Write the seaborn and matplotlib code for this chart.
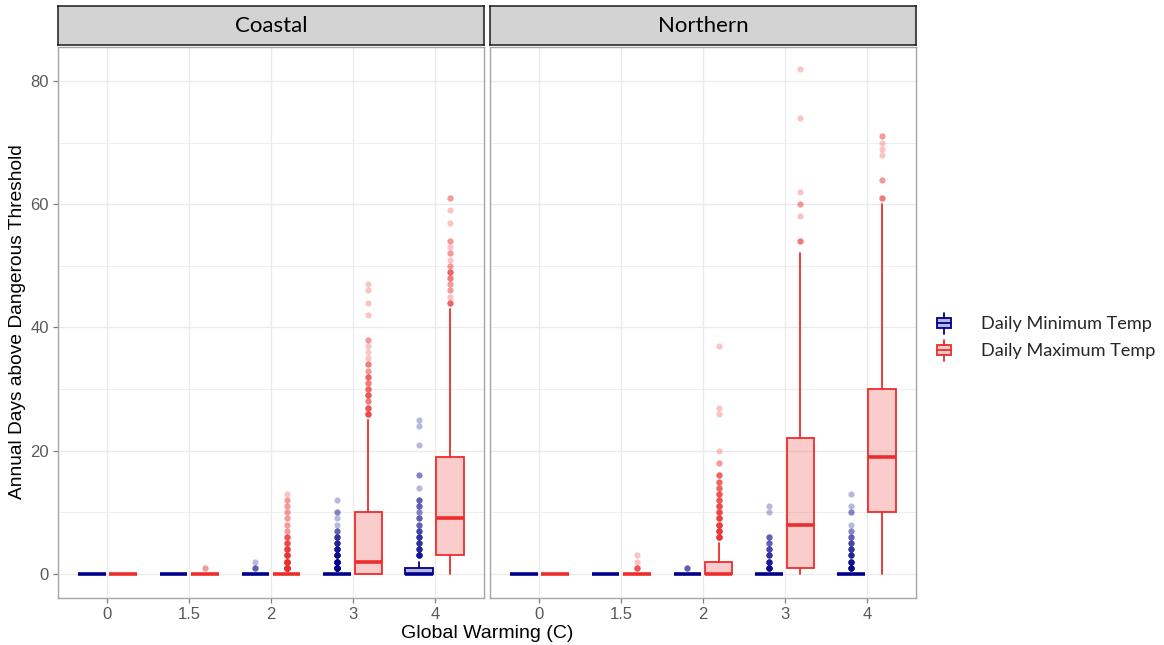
import numpy as np
import matplotlib
matplotlib.use("Agg")
import matplotlib.pyplot as plt
import seaborn as sns
from matplotlib.legend_handler import HandlerBase
from matplotlib.patches import Rectangle
from matplotlib.lines import Line2D
from matplotlib.ticker import MultipleLocator

# ---------------------------------------------------------------- data
regions = ["Coastal", "Northern"]
warming_labels = ["0", "1.5", "2", "3", "4"]
series_labels = ["Daily Minimum Temp", "Daily Maximum Temp"]

# Box summaries per warming level: [q1, median, q3, whisker_low, whisker_high]
coastal_min_stats = [[0, 0, 0, 0, 0], [0, 0, 0, 0, 0], [0, 0, 0, 0, 0],
                     [0, 0, 0, 0, 0], [0, 0, 1, 0, 2]]
coastal_max_stats = [[0, 0, 0, 0, 0], [0, 0, 0, 0, 0], [0, 0, 0, 0, 0],
                     [0, 2, 10, 0, 25], [3, 9, 19, 0, 43]]
northern_min_stats = [[0, 0, 0, 0, 0], [0, 0, 0, 0, 0], [0, 0, 0, 0, 0],
                      [0, 0, 0, 0, 0], [0, 0, 0, 0, 0]]
northern_max_stats = [[0, 0, 0, 0, 0], [0, 0, 0, 0, 0], [0, 0, 2, 0, 5],
                      [1, 8, 22, 0, 52], [10, 19, 30, 0, 60]]

# Outlying years: distinct values and how many years share each value
coastal_min_out_vals = [[], [], [1, 2],
                        [1, 2, 3, 4, 5, 6, 7, 8, 9, 10, 12],
                        [3, 4, 5, 6, 7, 8, 9, 10, 11, 12, 14, 16, 21, 24, 25]]
coastal_min_out_cnts = [[], [], [3, 1],
                        [20, 14, 10, 8, 6, 5, 3, 1, 1, 2, 1],
                        [8, 6, 5, 5, 4, 3, 3, 2, 3, 3, 1, 2, 1, 1, 1]]
coastal_max_out_vals = [[], [1], [1, 2, 3, 4, 5, 6, 7, 8, 9, 10, 11, 12, 13],
                        [26, 27, 28, 29, 30, 31, 32, 33, 34, 35, 36, 37, 38, 42, 44, 46, 47],
                        [44, 45, 46, 47, 48, 49, 50, 51, 52, 53, 54, 57, 59, 61]]
coastal_max_out_cnts = [[], [2], [20, 14, 10, 8, 6, 5, 2, 2, 2, 2, 2, 2, 1],
                        [6, 5, 3, 5, 4, 3, 4, 2, 3, 1, 1, 1, 2, 1, 1, 1, 1],
                        [4, 1, 2, 2, 3, 4, 2, 1, 2, 1, 2, 1, 1, 2]]
northern_min_out_vals = [[], [], [1],
                         [1, 2, 3, 4, 5, 6, 10, 11],
                         [1, 2, 3, 4, 5, 6, 7, 8, 10, 11, 13]]
northern_min_out_cnts = [[], [], [3],
                         [10, 7, 5, 4, 3, 3, 1, 1],
                         [10, 8, 6, 5, 4, 3, 2, 1, 2, 1, 1]]
northern_max_out_vals = [[], [1, 2, 3],
                         [6, 7, 8, 9, 10, 11, 12, 13, 14, 15, 16, 18, 20, 26, 27, 37],
                         [54, 58, 60, 62, 74, 82],
                         [61, 64, 68, 69, 70, 71]]
northern_max_out_cnts = [[], [5, 1, 1],
                         [10, 9, 8, 7, 6, 6, 5, 5, 4, 4, 4, 2, 1, 1, 1, 1],
                         [3, 1, 2, 1, 1, 1],
                         [3, 2, 1, 1, 1, 2]]

panels = {
    "Coastal": [(coastal_min_stats, coastal_min_out_vals, coastal_min_out_cnts),
                (coastal_max_stats, coastal_max_out_vals, coastal_max_out_cnts)],
    "Northern": [(northern_min_stats, northern_min_out_vals, northern_min_out_cnts),
                 (northern_max_stats, northern_max_out_vals, northern_max_out_cnts)],
}

# ---------------------------------------------------------------- style
sns.set_theme(style="whitegrid")
plt.rcParams["font.family"] = ["Liberation Sans", "DejaVu Sans"]

line_colors = ["#00008B", "#EE2C2C"]
fill_colors = [(0.0, 0.0, 0.545, 0.28), (0.933, 0.173, 0.173, 0.24)]
offsets = [-0.19, 0.19]
box_width = 0.34
grid_col = "#EBEBEB"
frame_col = "#A6A6A6"
tick_col = "#595959"
strip_font = "Lato"

W, H = 1164, 645
fig = plt.figure(figsize=(W / 100, H / 100), dpi=100)
fig.patch.set_facecolor("white")


def frac_box(left, top, right, bottom):
    return [left / W, 1 - bottom / H, (right - left) / W, (bottom - top) / H]


panel_px = {"Coastal": (58, 484), "Northern": (490, 916)}
panel_top, panel_bottom = 47, 598
strip_top = 6

for k, region in enumerate(regions):
    x0, x1 = panel_px[region]
    ax = fig.add_axes(frac_box(x0, panel_top, x1, panel_bottom))
    ax.set_facecolor("white")

    for s, (stats, out_vals, out_cnts) in enumerate(panels[region]):
        pos = np.arange(len(warming_labels)) + offsets[s]
        bstats = [dict(q1=q1, med=med, q3=q3, whislo=lo, whishi=hi, fliers=[])
                  for q1, med, q3, lo, hi in stats]
        ax.bxp(bstats, positions=pos, widths=box_width, patch_artist=True,
               showcaps=False, showfliers=False, manage_ticks=False,
               boxprops=dict(facecolor=fill_colors[s], edgecolor=line_colors[s], linewidth=1.3),
               whiskerprops=dict(color=line_colors[s], linewidth=1.3),
               medianprops=dict(color=line_colors[s], linewidth=2.6, solid_capstyle="butt"),
               zorder=3)
        fx = np.concatenate([np.repeat(p, sum(c)) for p, c in zip(pos, out_cnts)])
        fy = np.concatenate([np.repeat(v, c) if len(v) else np.array([])
                             for v, c in zip(out_vals, out_cnts)])
        ax.scatter(fx, fy, s=20, color=line_colors[s], alpha=0.28,
                   linewidths=0, zorder=4)

    ax.set_xlim(-0.6, len(warming_labels) - 1 + 0.6)
    ax.set_ylim(-3.9, 85.5)
    ax.set_xticks(np.arange(len(warming_labels)))
    ax.set_xticklabels(warming_labels)
    ax.yaxis.set_major_locator(MultipleLocator(20))
    ax.yaxis.set_minor_locator(MultipleLocator(10))
    ax.grid(which="major", color=grid_col, linewidth=1.0, zorder=0)
    ax.grid(which="minor", axis="y", color=grid_col, linewidth=0.55, zorder=0)
    ax.set_axisbelow(True)
    for sp in ax.spines.values():
        sp.set_color(frame_col)
        sp.set_linewidth(1.0)
    ax.tick_params(axis="both", which="major", length=3.5, width=0.9,
                   color="#7F7F7F", labelcolor=tick_col, labelsize=12, pad=3)
    ax.tick_params(axis="y", which="minor", length=0)
    ax.tick_params(bottom=True, left=(k == 0))
    if k > 0:
        ax.tick_params(labelleft=False)

    # facet strip
    sax = fig.add_axes(frac_box(x0, strip_top, x1, panel_top - 2))
    sax.set_facecolor("#D3D3D3")
    sax.set_xticks([])
    sax.set_yticks([])
    sax.grid(False)
    for sp in sax.spines.values():
        sp.set_color("#1A1A1A")
        sp.set_linewidth(1.1)
    sax.text(0.5, 0.48, region, ha="center", va="center", fontsize=16,
             family=strip_font, color="black", transform=sax.transAxes)

fig.text(487 / W, 1 - 633 / H, "Global Warming (C)", ha="center", va="center",
         fontsize=14, color="black")
fig.text(18 / W, 1 - 322 / H, "Annual Days above Dangerous Threshold",
         ha="center", va="center", rotation=90, fontsize=13.8, color="black")


class BoxKey(HandlerBase):
    """Small box-and-whisker glyph for legend entries."""

    def create_artists(self, legend, orig_handle, xdescent, ydescent,
                       width, height, fontsize, trans):
        ec = orig_handle.get_edgecolor()
        fc = orig_handle.get_facecolor()
        cx = width / 2 - xdescent
        cy = height / 2 - ydescent
        bw = width * 0.9
        bh = height * 0.55
        rect = Rectangle((cx - bw / 2, cy - bh / 2), bw, bh, facecolor=fc,
                         edgecolor=ec, linewidth=1.3, transform=trans)
        med = Line2D([cx - bw / 2, cx + bw / 2], [cy, cy], color=ec,
                     linewidth=1.3, transform=trans)
        up = Line2D([cx, cx], [cy + bh / 2, cy + height * 0.6], color=ec,
                    linewidth=1.3, transform=trans)
        dn = Line2D([cx, cx], [cy - bh / 2, cy - height * 0.6], color=ec,
                    linewidth=1.3, transform=trans)
        return [rect, med, up, dn]


handles = [Rectangle((0, 0), 1, 1, facecolor=fill_colors[i], edgecolor=line_colors[i])
           for i in range(2)]
fig.legend(handles, series_labels, handler_map={Rectangle: BoxKey()},
           loc="center left", bbox_to_anchor=(923 / W, 1 - 337 / H),
           frameon=False, prop=dict(family=strip_font, size=13.1),
           handlelength=0.9, handleheight=1.1, handletextpad=1.6,
           labelspacing=0.5, borderpad=0.2)

fig.savefig("out.png", dpi=100, facecolor="white")
